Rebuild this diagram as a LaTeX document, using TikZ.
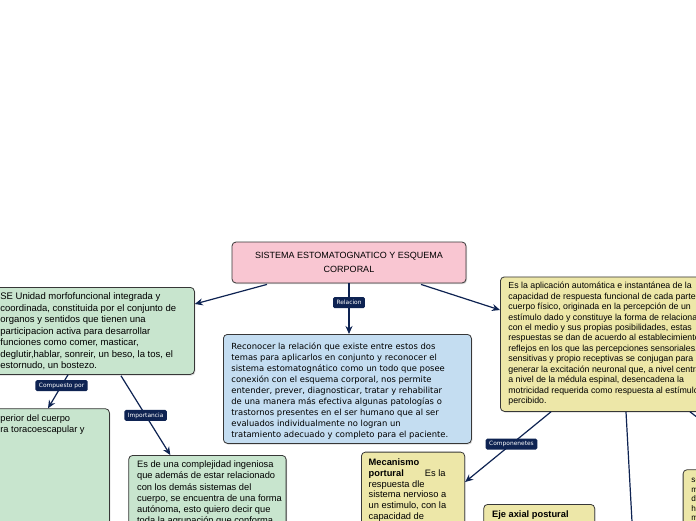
\documentclass[tikz,border=0pt]{standalone}
\usepackage{fontspec}
\setmainfont{Liberation Sans}
\newfontfamily\verdanafont{DejaVu Sans}
\usetikzlibrary{arrows.meta,calc,shadows}

\definecolor{navy}{RGB}{14,35,82}
\definecolor{mmgreen}{RGB}{200,229,206}
\definecolor{mmblue}{RGB}{196,221,241}
\definecolor{mmyellow}{RGB}{237,231,168}
\definecolor{mmpink}{RGB}{249,198,210}
\definecolor{mmborder}{RGB}{55,55,55}

% text block: width of the box, height of the box, lines
\newcommand{\mmtext}[3]{\makebox[#1][l]{\parbox[t][#2][t]{330pt}{\raggedright #3}}}

\begin{document}
\begin{tikzpicture}[x=1pt,y=-1pt]
\tikzstyle{topic} = [draw=mmborder, line width=0.8pt, rounded corners=4pt, anchor=north west, drop shadow={shadow xshift=1pt,shadow yshift=-1.2pt,opacity=0.3}]
\tikzstyle{link} = [navy, line width=1.2pt, -{Stealth[length=8pt,width=7pt]}]
\tikzstyle{tag} = [fill=navy, text=white, rounded corners=1.5pt, font=\verdanafont\fontsize{5.9}{7}\selectfont, inner xsep=3.5pt, inner ysep=0pt, minimum height=11pt]

\useasboundingbox (0,0) rectangle (696,520);
\fill[white] (0,0) rectangle (696,520);
\clip (0,0) rectangle (696,520);

\node[topic, anchor=center, fill=mmpink, minimum width=234pt, minimum height=41pt, align=center, font=\fontsize{9}{14.3}\selectfont] (title) at (349,262.5) {SISTEMA ESTOMATOGNATICO Y ESQUEMA\\CORPORAL};

\node[topic, fill=mmgreen, inner xsep=6pt, inner ysep=5.5pt, font=\fontsize{9.5}{11.5}\selectfont] (seunidad) at (-6,287) {\mmtext{188pt}{76pt}{SE Unidad morfofuncional integrada y\\
coordinada, constituida por el conjunto de\\
organos y sentidos que tienen una\\
participacion activa para desarrollar\\
funciones como comer, masticar,\\
deglutir,hablar, sonreir, un beso, la tos, el\\
estornudo, un bostezo.}};

\node[topic, fill=mmblue, inner xsep=8pt, inner ysep=8pt, font=\verdanafont\fontsize{8.4}{11}\selectfont] (reconocer) at (223,334) {\mmtext{232pt}{93pt}{Reconocer la relación que existe entre estos dos\\
temas para aplicarlos en conjunto y reconocer el\\
sistema estomatognático como un todo que posee\\
conexión con el esquema corporal, nos permite\\
entender, prever, diagnosticar, tratar y rehabilitar\\
de una manera más efectiva algunas patologías o\\
trastornos presentes en el ser humano que al ser\\
evaluados individualmente no logran un\\
tratamiento adecuado y completo para el paciente.}};

\node[topic, fill=mmyellow, inner xsep=8pt, inner ysep=5.4pt, font=\fontsize{8.8}{10.43}\selectfont] (aplicacion) at (500,276.5) {\mmtext{244pt}{123.7pt}{Es la aplicación automática e instantánea de la\\
capacidad de respuesta funcional de cada parte del\\
cuerpo físico, originada en la percepción de un\\
estímulo dado y constituye la forma de relacionarse\\
con el medio y sus propias posibilidades, estas\\
respuestas se dan de acuerdo al establecimiento de\\
reflejos en los que las percepciones sensoriales,\\
sensitivas y propio receptivas se conjugan para\\
generar la excitación neuronal que, a nivel central y\\
a nivel de la médula espinal, desencadena la\\
motricidad requerida como respuesta al estímulo\\
percibido.}};

\node[topic, fill=mmgreen, inner xsep=8pt, inner ysep=6.4pt, font=\fontsize{9.3}{11}\selectfont] (superior) at (-8,408.3) {\mmtext{101pt}{120pt}{perior del cuerpo\\
ra toracoescapular y}};

\node[topic, fill=mmgreen, inner xsep=8.4pt, inner ysep=5.7pt, font=\fontsize{9.3}{11.1}\selectfont] (complejidad) at (128.3,455) {\mmtext{140.6pt}{90pt}{Es de una complejidad ingeniosa\\
que además de estar relacionado\\
con los demás sistemas del\\
cuerpo, se encuentra de una forma\\
autónoma, esto quiero decir que\\
toda la agrupación que conforma}};

\node[topic, fill=mmyellow, inner xsep=7.3pt, inner ysep=6.6pt, font=\fontsize{9.3}{10.8}\selectfont] (mecanismo) at (361,451.7) {\mmtext{88.7pt}{90pt}{\textbf{Mecanismo}\\
\textbf{portural}\hspace{21pt}Es la\\
respuesta dle\\
sistema nervioso a\\
un estimulo, con la\\
capacidad de}};

\node[topic, fill=mmyellow, inner xsep=8.4pt, inner ysep=6.3pt, font=\fontsize{9.3}{11}\selectfont] (eje) at (483.3,504) {\mmtext{94.2pt}{50pt}{\textbf{Eje axial postural}}};

\node[topic, fill=mmyellow, inner xsep=8.3pt, inner ysep=8.4pt, font=\fontsize{8.2}{9.6}\selectfont] (rightbox) at (682.7,469.3) {\mmtext{60pt}{80pt}{se\\
m\\
d\\
h\\
m}};

\coordinate (below) at (633,540);
\coordinate (offright) at (750,458);

\draw[link] ($(title.south)+(-82,1)$) -- ($(seunidad.north east)+(0,17)$);
\draw[link] (title.south) -- (title.south |- reconocer.north) node[tag, pos=0.38] {Relacion};
\draw[link] ($(title.south)+(72,1)$) -- ($(aplicacion.north west)+(0,33.5)$);

\draw[link] ($(seunidad.south west)+(74,0)$) -- ($(superior.north west)+(56,0)$) node[tag, pos=0.32] {Compuesto por};
\draw[link] ($(seunidad.south west)+(127,1)$) -- ($(complejidad.north west)+(42,0)$) node[tag, pos=0.5] {Importancia};

\draw[link] ($(aplicacion.south west)+(51,0)$) -- ($(mecanismo.north east)+(0,30.3)$) node[tag, pos=0.46] {Componenetes};
\draw[link] ($(aplicacion.south west)+(126,0)$) -- (below);
\draw[link] ($(aplicacion.south west)+(190,0)$) -- (offright);

\end{tikzpicture}
\end{document}
